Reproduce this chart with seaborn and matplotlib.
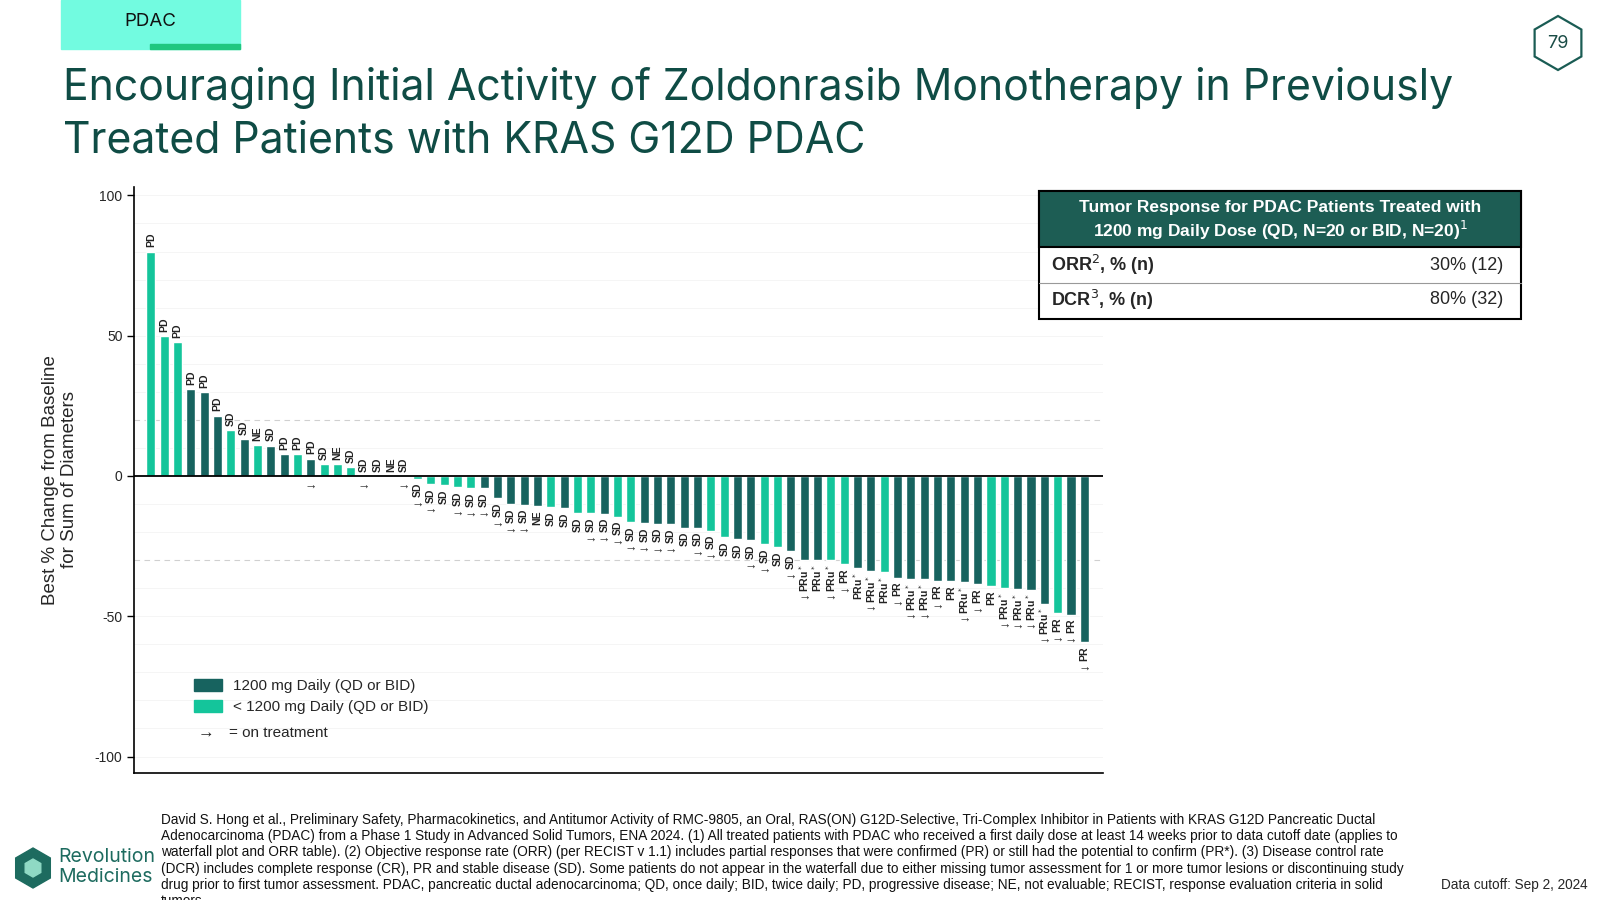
import matplotlib
matplotlib.use("Agg")
import matplotlib.pyplot as plt
import seaborn as sns
import numpy as np
import pandas as pd
from matplotlib.patches import Rectangle, RegularPolygon

values = [80, 50, 47.6, 31.1, 30, 21.5, 16.4, 13.2, 11, 10.8, 7.7, 7.7, 6.2, 4.3, 4.3, 3.3,
          0, 0, 0, 0,
          -1, -3, -3.4, -4, -4.3, -4.3, -8.0, -10, -10.3, -10.8, -11.2, -11.6, -13.3, -13.3,
          -13.4, -14.5, -16.5, -16.9, -17.1, -17.3, -18.4, -18.4, -19.5, -21.9, -22.6, -23,
          -24.3, -25.4, -26.7, -30, -30, -30, -31.5, -32.7, -33.8, -34.2, -36.2, -36.7, -36.8,
          -37.3, -37.6, -37.9, -38.5, -39.4, -39.9, -40.3, -40.5, -45.5, -49, -49.4, -59.3]
dose = list("LLLDDDLDLDDLDLLL") + list("DDDD") + list("LLLLL") + \
       list("DDDDDLDLLDLLDDDDDLLDDLLD") + \
       list("DDLLDDL" + "DDDDDDD" + "LLDDDLDD")
responses = ["PD", "PD", "PD", "PD", "PD", "PD", "SD", "SD", "NE", "SD", "PD", "PD", "PD", "SD", "NE", "SD",
             "SD", "SD", "NE", "SD",
             "SD", "SD", "SD", "SD", "SD", "SD", "SD", "SD", "SD", "NE", "SD", "SD", "SD", "SD",
             "SD", "SD", "SD", "SD", "SD", "SD", "SD", "SD", "SD", "SD", "SD", "SD",
             "SD", "SD", "SD", "PRu*", "PRu*", "PRu*", "PR", "PRu*", "PRu*", "PRu*", "PR", "PRu*", "PRu*",
             "PR", "PR", "PRu*", "PR", "PR", "PRu*", "PRu*", "PRu*", "PRu*", "PR", "PR", "PR"]
on_treatment = [13, 17, 20, 21, 22, 24, 25, 26, 27, 28, 29, 34, 35, 36, 37, 38, 39, 40, 42, 43, 46, 47,
                49, 50, 52, 53, 55, 57, 58, 59, 60, 62, 63, 65, 66, 67, 68, 69, 70, 71]

DARK = "#17635f"
LIGHT = "#14c59b"
TEAL_TXT = "#0f4c45"

df = pd.DataFrame({"idx": np.arange(len(values)), "val": values,
                   "grp": ["1200 mg Daily (QD or BID)" if d == "D" else "< 1200 mg Daily (QD or BID)" for d in dose]})

sns.set_theme(style="white")
plt.rcParams["font.family"] = ["Liberation Sans", "DejaVu Sans"]

W, H = 1600, 900
fig = plt.figure(figsize=(16, 9), dpi=100)
def P(x, y):
    return (x / W, 1 - y / H)
def I(x, y):
    return (x / 100, (H - y) / 100)

ax = fig.add_axes([133.7 / W, 1 - 772.5 / H, (1103 - 133.7) / W, (772.5 - 186.7) / H])
for y in range(-100, 101, 10):
    if y in (20, -30):
        ax.axhline(y, color="#d0d0d0", lw=0.8, ls=(0, (5, 4)), zorder=0)
    elif y != 0:
        ax.axhline(y, color="#f5f5f5", lw=0.7, zorder=0)
sns.barplot(data=df, x="idx", y="val", hue="grp", dodge=False, width=0.68, saturation=1,
            palette={"1200 mg Daily (QD or BID)": DARK, "< 1200 mg Daily (QD or BID)": LIGHT},
            legend=False, ax=ax, native_scale=True, zorder=2)
ax.axhline(0, color="black", lw=1.3, zorder=3)
ax.set_xlim(-1.28, 71.4)
ax.set_ylim(-105.7, 103.1)
ax.set_xticks([])
ax.set_yticks([100, 50, 0, -50, -100])
ax.set_yticklabels(["100", "50", "0", "-50", "-100"], fontsize=10)
ax.tick_params(axis="y", length=5, width=1, color="black", left=True, pad=3)
ax.set_xlabel("")
ax.set_ylabel("Best % Change from Baseline\nfor Sum of Diameters", fontsize=13.5, labelpad=12)
for s in ["top", "right"]:
    ax.spines[s].set_visible(False)
for s in ["left", "bottom"]:
    ax.spines[s].set_color("black")
    ax.spines[s].set_linewidth(1.2)

lablen = {"SD": 10, "PD": 10, "NE": 10, "PR": 10, "PRu*": 18}
for i, (v, r) in enumerate(zip(values, responses)):
    txt = "PRu$^*$" if r == "PRu*" else r
    if v >= 0:
        ax.annotate(txt, (i, v), xytext=(0, 3), textcoords="offset points", rotation=90,
                    ha="center", va="bottom", fontsize=7.5, color="#222222", fontweight="bold")
        if (i + 1) in on_treatment:
            ax.annotate("→", (i, 0), xytext=(0, -8), textcoords="offset points",
                        ha="center", va="center", fontsize=9, color="#333333")
    else:
        ax.annotate(txt, (i, v), xytext=(0, -3), textcoords="offset points", rotation=90,
                    ha="center", va="top", fontsize=7.5, color="#222222", fontweight="bold")
        if (i + 1) in on_treatment:
            ax.annotate("→", (i, v), xytext=(0, -3 - lablen[r] - 6), textcoords="offset points",
                        ha="center", va="center", fontsize=9, color="#333333")

# legend
fig.patches.append(Rectangle(P(194, 691), 28 / W, 12 / H, transform=fig.transFigure, color=DARK))
fig.patches.append(Rectangle(P(194, 712), 28 / W, 12 / H, transform=fig.transFigure, color=LIGHT))
fig.text(*P(233, 686), "1200 mg Daily (QD or BID)", fontsize=11, va="center")
fig.text(*P(233, 707), "< 1200 mg Daily (QD or BID)", fontsize=11, va="center")
fig.text(*P(198, 733), "→", fontsize=12, va="center")
fig.text(*P(229, 733), "= on treatment", fontsize=11, va="center")

# header tab
fig.patches.append(Rectangle(P(61, 49), 179 / W, 49 / H, transform=fig.transFigure, color="#72fbe0"))
fig.patches.append(Rectangle(P(150, 49), 90 / W, 5 / H, transform=fig.transFigure, color="#1fc77f"))
fig.text(*P(150, 21), "PDAC", fontsize=13.5, ha="center", va="center", color="#111111",
         family=["Inter", "DejaVu Sans"])

# title
fig.text(*P(63, 88), "Encouraging Initial Activity of Zoldonrasib Monotherapy in Previously",
         fontsize=30.8, color=TEAL_TXT, va="center", family=["Inter", "DejaVu Sans"])
fig.text(*P(63, 141), "Treated Patients with KRAS G12D PDAC",
         fontsize=30.8, color=TEAL_TXT, va="center", family=["Inter", "DejaVu Sans"])

# page number hexagon
fig.patches.append(RegularPolygon(I(1558, 43), numVertices=6, radius=0.27, orientation=0,
                                  transform=fig.dpi_scale_trans, facecolor="white",
                                  edgecolor="#1a5c54", lw=1.6))
fig.text(*P(1558, 44), "79", fontsize=13, ha="center", va="center", color="#1a4c46",
         family=["Inter", "DejaVu Sans"])

# table
fig.patches.append(Rectangle(P(1039, 319), 482 / W, 128 / H, transform=fig.transFigure,
                             facecolor="white", edgecolor="black", lw=1.5))
fig.patches.append(Rectangle(P(1039, 247), 482 / W, 56 / H, transform=fig.transFigure,
                             facecolor="#1d5d54", edgecolor="black", lw=1.5))
fig.lines.append(plt.Line2D([1039 / W, 1521 / W], [1 - 283 / H] * 2, transform=fig.transFigure,
                            color="#999999", lw=0.8))
fig.text(*P(1280, 208), "Tumor Response for PDAC Patients Treated with", fontsize=12.5,
         ha="center", va="center", color="white", fontweight="bold")
fig.text(*P(1280, 230), "1200 mg Daily Dose (QD, N=20 or BID, N=20)$^1$", fontsize=12.5,
         ha="center", va="center", color="white", fontweight="bold")
fig.text(*P(1051, 265), "ORR$^2$, % (n)", fontsize=13, va="center", fontweight="bold")
fig.text(*P(1503, 265), "30% (12)", fontsize=13, va="center", ha="right")
fig.text(*P(1051, 300), "DCR$^3$, % (n)", fontsize=13, va="center", fontweight="bold")
fig.text(*P(1503, 300), "80% (32)", fontsize=13, va="center", ha="right")

# footnote
foot = [
    "David S. Hong et al., Preliminary Safety, Pharmacokinetics, and Antitumor Activity of RMC-9805, an Oral, RAS(ON) G12D-Selective, Tri-Complex Inhibitor in Patients with KRAS G12D Pancreatic Ductal",
    "Adenocarcinoma (PDAC) from a Phase 1 Study in Advanced Solid Tumors, ENA 2024. (1) All treated patients with PDAC who received a first daily dose at least 14 weeks prior to data cutoff date (applies to",
    "waterfall plot and ORR table). (2) Objective response rate (ORR) (per RECIST v 1.1) includes partial responses that were confirmed (PR) or still had the potential to confirm (PR*). (3) Disease control rate",
    "(DCR) includes complete response (CR), PR and stable disease (SD). Some patients do not appear in the waterfall due to either missing tumor assessment for 1 or more tumor lesions or discontinuing study",
    "drug prior to first tumor assessment. PDAC, pancreatic ductal adenocarcinoma; QD, once daily; BID, twice daily; PD, progressive disease; NE, not evaluable; RECIST, response evaluation criteria in solid",
    "tumors.",
]
for k, line in enumerate(foot):
    fig.text(*P(161, 820 + 16.2 * k), line, fontsize=9.8, va="center", color="#111111")
fig.text(*P(1588, 885), "Data cutoff: Sep 2, 2024", fontsize=9.8, va="center", ha="right")

# logo
fig.patches.append(RegularPolygon(I(33, 868), numVertices=6, radius=0.2, orientation=0,
                                  transform=fig.dpi_scale_trans, color="#1d6b5f"))
fig.patches.append(RegularPolygon(I(33, 868), numVertices=6, radius=0.09, orientation=0,
                                  transform=fig.dpi_scale_trans, color="#8fd9c4"))
fig.text(*P(58, 857), "Revolution", fontsize=14, va="center", color="#1d6b5f",
         family=["Inter", "DejaVu Sans"])
fig.text(*P(58, 877), "Medicines", fontsize=14, va="center", color="#1d6b5f",
         family=["Inter", "DejaVu Sans"])

fig.savefig("out.png", dpi=100)
